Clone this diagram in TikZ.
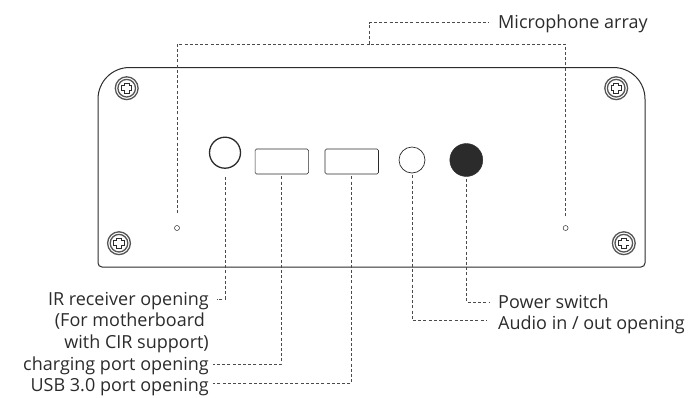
\documentclass[tikz,border=0pt]{standalone}
\usepackage{xcolor}
\usepackage{fontspec}
\setmainfont{Open Sans}
\usetikzlibrary{positioning, calc}
\definecolor{inkdark}{HTML}{2B2B2B}
\definecolor{labelgray}{HTML}{2B2B2B}

\begin{document}
\begin{tikzpicture}[
    x=1pt, y=-1pt,
    panelline/.style={draw=inkdark, line width=1pt},
    port/.style={rectangle, draw=inkdark, line width=0.6pt, rounded corners=1.5pt, minimum width=53.5pt, minimum height=25pt, inner sep=0pt},
    hole/.style={circle, draw=inkdark, inner sep=0pt},
    micdot/.style={hole, line width=0.5pt, minimum size=5pt},
    lbl/.style={font=\fontsize{18}{20}\selectfont, text=labelgray, inner sep=0pt, text height=14pt, text depth=1.5pt},
    leader/.style={draw=inkdark!85, line width=0.65pt, dash pattern=on 3pt off 2.2pt},
    screw/.pic={
        \draw[inkdark!80, line width=1.3pt] (0,0) circle (11.4);
        \draw[inkdark!80, line width=1.3pt] (0,0) circle (8.8);
        \draw[inkdark, line width=5.8pt] (-5.6,0) -- (5.6,0) (0,-5.6) -- (0,5.6);
        \draw[white, line width=3.8pt] (-4.7,0) -- (4.7,0) (0,-4.7) -- (0,4.7);
    }
]
    \useasboundingbox (0,0) rectangle (698,397);

    % panel outline
    \draw[panelline] (98,99) arc[start angle=180, end angle=270, radius=31.5] -- (613.5,67.5)
        arc[start angle=270, end angle=360, radius=31.5] -- (645,263)
        arc[start angle=0, end angle=90, radius=4] -- (102,267)
        arc[start angle=90, end angle=180, radius=4] -- cycle;

    % screws
    \pic at (126.7,88.2) {screw};
    \pic at (616.2,88.2) {screw};
    \pic at (119,243.2) {screw};
    \pic at (623.8,243.2) {screw};

    % openings
    \node[hole, line width=1.3pt, minimum size=31pt] (ir) at (225,152.7) {};
    \node[port] (charging) at (281.8,161.5) {};
    \node[port] (usb) at (351.7,161.5) {};
    \node[hole, line width=0.7pt, minimum size=26pt] (audio) at (412,160) {};
    \node[hole, fill=inkdark, minimum size=33pt] (power) at (466.3,160) {};
    \node[micdot] (micleft) at (177,228) {};
    \node[micdot] (micright) at (565.6,228) {};

    % labels
    \node[lbl, anchor=east] (irlabel) at (209,299) {IR receiver opening};
    \node[lbl, anchor=east] (irlabeltwo) at (205,320.5) {(For motherboard};
    \node[lbl, anchor=east] (irlabelthree) at (209,342) {with CIR support)};
    \node[lbl, anchor=east] (chargelabel) at (209,364) {charging port opening};
    \node[lbl, anchor=east] (usblabel) at (209,385.5) {USB 3.0 port opening};
    \node[lbl, anchor=west] (miclabel) at (498,22.5) {Microphone array};
    \node[lbl, anchor=west] (powerlabel) at (498,302) {Power switch};
    \node[lbl, anchor=west] (audiolabel) at (498,323) {Audio in / out opening};

    % leaders
    \coordinate (micjoin) at (369.5,44);
    \draw[leader] (micleft.north) ++(0,-12) |- (micjoin);
    \draw[leader] (micright.north) ++(0,-9) |- (micjoin);
    \draw[leader, shorten >=9pt] (micjoin) |- (miclabel.west);
    \draw[leader, shorten >=8pt] (ir.south) ++(0,8) |- (irlabel.east);
    \draw[leader, shorten <=2pt, shorten >=4pt] (charging.south) |- (chargelabel.east);
    \draw[leader, shorten <=2pt, shorten >=4pt] (usb.south) |- ([yshift=2.5pt]usblabel.east);
    \draw[leader, shorten <=2pt, shorten >=11pt] (audio.south) |- ([yshift=3pt]audiolabel.west);
    \draw[leader, shorten <=2pt, shorten >=8pt] (power.south) |- (powerlabel.west);
\end{tikzpicture}
\end{document}
